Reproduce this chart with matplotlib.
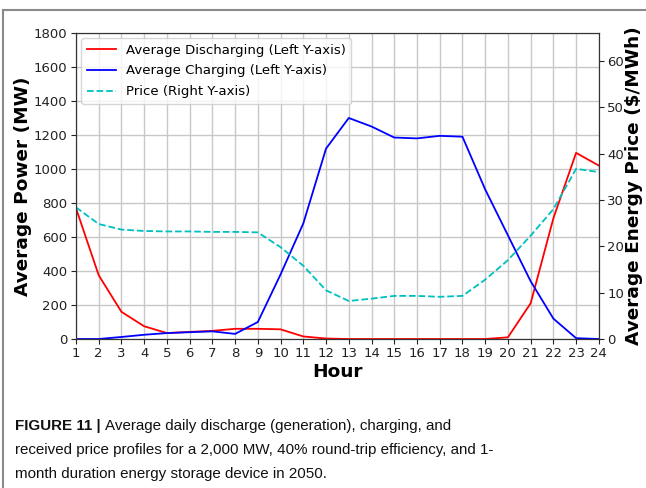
import matplotlib
matplotlib.use("Agg")
import matplotlib.pyplot as plt
from matplotlib.lines import Line2D

hours = list(range(1, 25))
discharging = [770, 375, 160, 75, 35, 42, 48, 60, 60, 57, 15, 3, 0, 0, 0, 0, 0, 0, 0, 10, 210, 710, 1095, 1020]
charging = [0, 0, 12, 25, 35, 40, 45, 30, 100, 380, 680, 1120, 1300, 1250, 1185, 1180, 1195, 1190, 880, 610, 340, 120, 5, 0]
price = [28.4, 24.8, 23.6, 23.3, 23.2, 23.2, 23.1, 23.1, 23.0, 19.8, 15.8, 10.5, 8.2, 8.7, 9.3, 9.3, 9.1, 9.3, 12.8, 17.0, 22.3, 28.0, 36.7, 36.0]

left_ticks = list(range(0, 1801, 200))
right_ticks = list(range(0, 61, 10))

caption_bold = "FIGURE 11 | "
caption_lines = [
    "Average daily discharge (generation), charging, and",
    "received price profiles for a 2,000 MW, 40% round-trip efficiency, and 1-",
    "month duration energy storage device in 2050.",
]

fig = plt.figure(figsize=(6.46, 4.88), dpi=100)
ax = fig.add_axes([0.1176, 0.3053, 0.8094, 0.6271])
ax2 = ax.twinx()

l1, = ax.plot(hours, discharging, color="red", lw=1.3, label="Average Discharging (Left Y-axis)")
l2, = ax.plot(hours, charging, color="blue", lw=1.3, label="Average Charging (Left Y-axis)")
l3, = ax2.plot(hours, price, color="c", lw=1.3, ls="--", label="Price (Right Y-axis)")

ax.set_xlim(1, 24)
ax.set_ylim(0, 1800)
ax.set_xticks(hours)
ax.set_yticks(left_ticks)
ax2.set_ylim(0, 66)
ax2.set_yticks(right_ticks)
ax.grid(True, color="#c8c8c8", lw=1.0)
ax.set_axisbelow(True)

for a in (ax, ax2):
    a.tick_params(labelsize=9.5, colors="#222222", length=3.5, pad=2.5)
    for s in a.spines.values():
        s.set_color("#333333")

ax.set_xlabel("Hour", fontsize=13.3, fontweight="bold", labelpad=2)
ax.set_ylabel("Average Power (MW)", fontsize=13.3, fontweight="bold", labelpad=1)
ax2.set_ylabel("Average Energy Price ($/MWh)", fontsize=13.3, fontweight="bold", labelpad=1)

leg = ax.legend(handles=[l1, l2, l3], loc="upper left", fontsize=9.5, framealpha=0.8,
                borderaxespad=0.4, handlelength=2.2, labelspacing=0.6)

# frame lines
fig.add_artist(Line2D([3/646, 3/646], [0, 1-10/488], transform=fig.transFigure, color="#8a8a8a", lw=1.5))
fig.add_artist(Line2D([3/646, 1], [1-10/488, 1-10/488], transform=fig.transFigure, color="#8a8a8a", lw=1.5))

cap_font = ["Liberation Sans Narrow", "Liberation Sans", "DejaVu Sans"]
cap_size = 10.9
x0 = 15/646
baselines = [430, 454, 478]
tb = fig.text(x0, 1-baselines[0]/488, caption_bold, fontsize=cap_size, fontweight="bold",
              family=cap_font, va="baseline", ha="left", color="#111111")
fig.canvas.draw()
bb = tb.get_window_extent()
fig.text(bb.x1/646, 1-baselines[0]/488, caption_lines[0], fontsize=cap_size, family=cap_font,
         va="baseline", ha="left", color="#111111")
for line, b in zip(caption_lines[1:], baselines[1:]):
    fig.text(x0, 1-b/488, line, fontsize=cap_size, family=cap_font, va="baseline", ha="left", color="#111111")

fig.savefig("out.png", dpi=100)
